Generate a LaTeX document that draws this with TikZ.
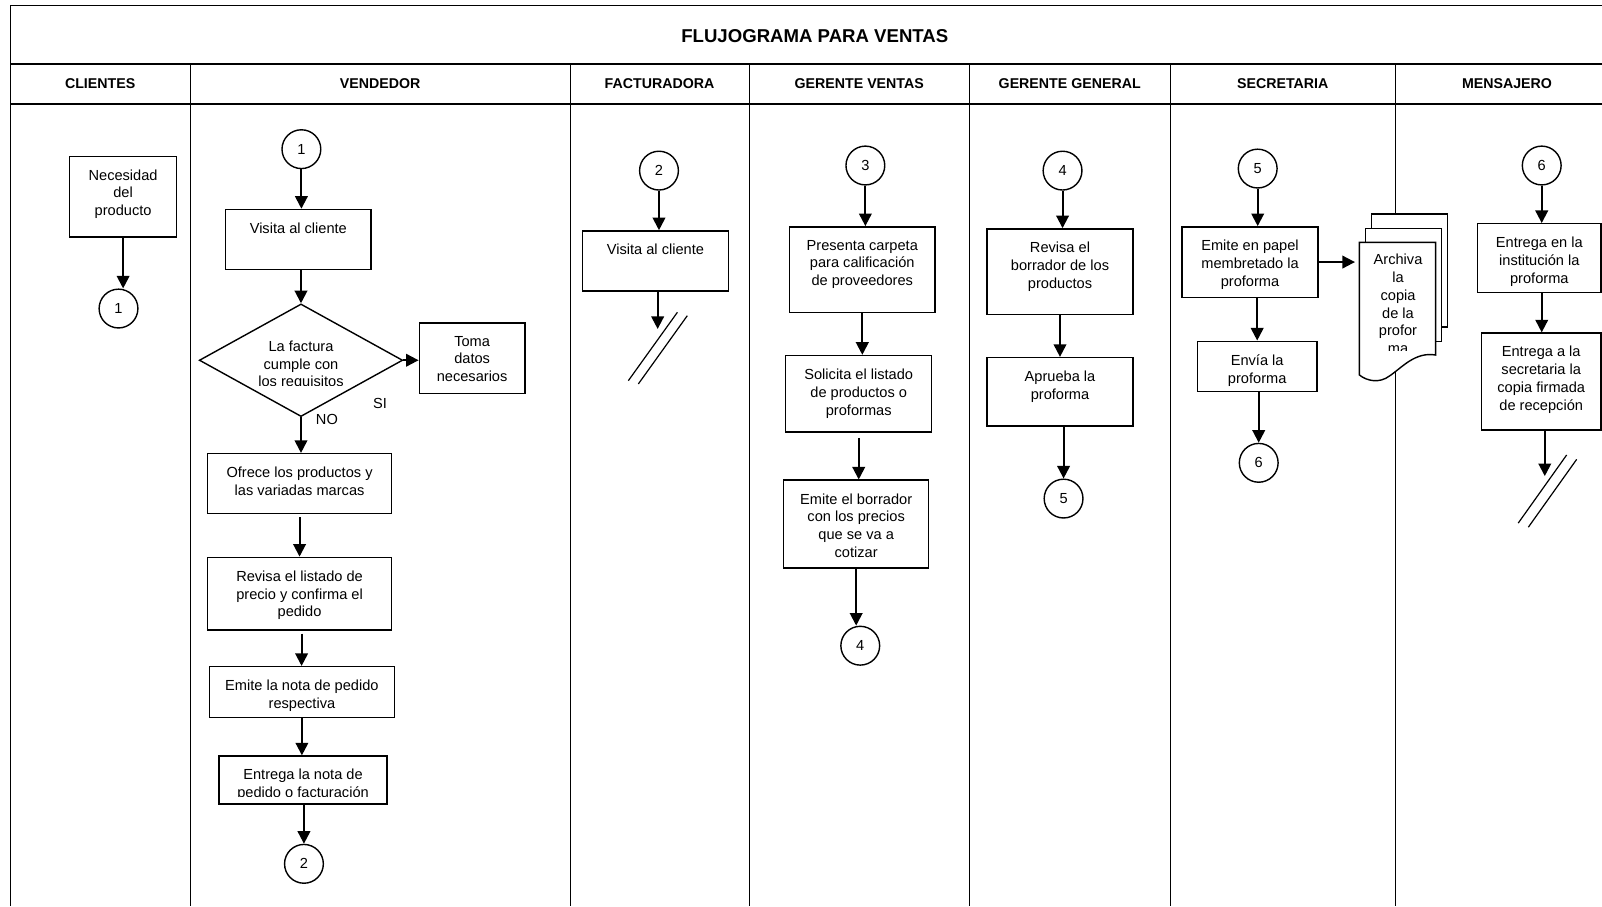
\documentclass[tikz,border=0pt]{standalone}
\usepackage{fontspec}
\setmainfont{Liberation Sans}
\usetikzlibrary{arrows.meta,shapes.geometric,fit,calc}

% process box: name, x1, y1, x2, y2, text (text set from the top of the box)
\newcommand\pbox[6]{%
  \node[box, fit={(#2,#3) (#4,#5)}] (#1) {};
  \node[txt] (#1-t) at ($(#1.north)+(0,13.3)$) {#6};
}

\begin{document}
\begin{tikzpicture}[
  x=0.51085pt, y=-0.51085pt,
  grid/.style={line width=0.5pt},
  rule/.style={line width=1.3pt},
  box/.style={draw, line width=0.7pt, rectangle, inner sep=0pt, fill=white},
  page/.style={draw, line width=0.7pt, fill=white},
  txt/.style={inner sep=0pt, align=center, anchor=north, font=\fontsize{7.3}{8.9}\selectfont},
  conn/.style={draw, circle, line width=0.7pt, minimum size=19.4pt, inner sep=0pt, fill=white, font=\fontsize{7.3}{8.9}\selectfont},
  dec/.style={draw, diamond, line width=0.7pt, inner sep=0pt, minimum width=101.7pt, minimum height=56.3pt},
  arr/.style={line width=1pt, -{Triangle[length=6.3pt, width=6.3pt]}},
  cut/.style={line width=0.6pt},
  head/.style={inner sep=0pt, font=\fontsize{7.1}{8.5}\selectfont\bfseries},
  lbl/.style={inner sep=0pt, font=\fontsize{7.3}{8.9}\selectfont},
]
\useasboundingbox (0,0) rectangle (1568,887);
\clip (0,0) rectangle (1568,887);

% ---------- table frame ----------
\draw[grid] (9.8,887) -- (9.8,4.9) -- (1590,4.9);
\draw[rule] (9.8,62.5) -- (1590,62.5);
\draw[rule] (9.8,101.8) -- (1590,101.8);
\foreach \x in {186.6,558,733.4,948.5,1146,1365.5}
  \draw[grid] (\x,62.5) -- (\x,887);

\node[inner sep=0pt, font=\fontsize{9.3}{11}\selectfont\bfseries] (titulo) at (797.5,35) {FLUJOGRAMA PARA VENTAS};
\node[head] (h1) at (98,82) {CLIENTES};
\node[head] (h2) at (372,82) {VENDEDOR};
\node[head] (h3) at (645.5,82) {FACTURADORA};
\node[head] (h4) at (841,82) {GERENTE VENTAS};
\node[head] (h5) at (1047,82) {GERENTE GENERAL};
\node[head] (h6) at (1255.5,82) {SECRETARIA};
\node[head] (h7) at (1475,82) {MENSAJERO};

% ---------- CLIENTES ----------
\pbox{nec}{68}{153}{173}{232}{Necesidad\\del\\producto}
\node[conn] (c1a) at (116,302) {1};
\draw[arr] (nec.south) -- (nec.south |- c1a.north);

% ---------- VENDEDOR ----------
\node[conn] (c1b) at (295,146) {1};
\pbox{vis}{221}{205}{363}{264}{Visita al cliente}
\node[dec] (fac) at (294.6,352.6) {};
\begin{scope}
  \clip (190,300) rectangle (400,377.5);
  \node[txt] (fac-t) at (294.6,333.2) {La factura\\cumple con\\los requisitos};
\end{scope}
\pbox{toma}{410.4}{316}{513.8}{385}{Toma\\datos\\necesarios}
\node[lbl] (si) at (372,394.5) {SI};
\node[lbl] (no) at (320,410.5) {NO};
\pbox{ofr}{203}{444}{383.4}{502.4}{Ofrece los productos y\\las variadas marcas}
\pbox{rev}{203}{545.5}{383.4}{616.6}{Revisa el listado de\\precio y confirma el\\pedido}
\pbox{nota}{205}{652.5}{386}{702.4}{Emite la nota de pedido\\respectiva}
\node[box, fit={(214.4,740) (378.8,787)}] (ent) {};
\begin{scope}
  \clip (214.4,740) rectangle (378.8,780);
  \node[txt] (ent-t) at ($(ent.north)+(0,13)$) {Entrega la nota de\\pedido o facturación};
\end{scope}
\node[conn] (c2a) at (297.5,845.5) {2};

\draw[arr] (c1b.south) -- (c1b.south |- vis.north);
\draw[arr] (vis.south -| fac.north) -- (fac.north);
\draw[arr] (fac.east) -- (toma.west |- fac.east);
\draw[arr] (fac.south) -- (fac.south |- ofr.north);
\draw[arr] ($(ofr.south)+(0,3)$) -- (ofr.south |- rev.north);
\draw[arr] ($(rev.south)+(2,3)$) -- ($(rev.south |- nota.north)+(2,0)$);
\draw[arr] (nota.south) -- (nota.south |- ent.north);
\draw[arr] (ent.south -| c2a.north) -- (c2a.north);

% ---------- FACTURADORA ----------
\node[conn] (c2b) at (645,167) {2};
\pbox{vis2}{570}{226}{713}{285}{Visita al cliente}
\coordinate (fin1) at (643.7,322);
\draw[arr] (c2b.south) -- (c2b.south |- vis2.north);
\draw[arr] (vis2.south -| fin1) -- (fin1);
\draw[cut] (615,372.6) -- (663,305.7);
\draw[cut] (624.8,375.8) -- (672.7,309);

% ---------- GERENTE VENTAS ----------
\node[conn] (c3) at (847,162) {3};
\pbox{pre}{773}{222}{915}{306}{Presenta carpeta\\para calificación\\de proveedores}
\pbox{sol}{769}{348}{912}{423}{Solicita el listado\\de productos o\\proformas}
\pbox{bor}{767}{470}{909}{556}{Emite el borrador\\con los precios\\que se va a\\cotizar}
\node[conn] (c4a) at (842,632) {4};
\draw[arr] (c3.south) -- (c3.south |- pre.north);
\draw[arr] (pre.south) -- (pre.south |- sol.north);
\draw[arr] ($(sol.south)+(0,5)$) -- (sol.south |- bor.north);
\draw[arr] (bor.south) -- (bor.south |- c4a.north);

% ---------- GERENTE GENERAL ----------
\node[conn] (c4b) at (1040,167) {4};
\pbox{revb}{966}{224}{1109}{308}{Revisa el\\borrador de los\\productos}
\pbox{apr}{966}{350}{1109}{417}{Aprueba la\\proforma}
\node[conn] (c5a) at (1041,488) {5};
\draw[arr] (c4b.south) -- (c4b.south |- revb.north);
\draw[arr] (revb.south) -- (revb.south |- apr.north);
\draw[arr] (apr.south -| c5a.north) -- (c5a.north);

% ---------- SECRETARIA ----------
\node[conn] (c5b) at (1231,165) {5};
\pbox{pap}{1157}{222}{1290}{291}{Emite en papel\\membretado la\\proforma}
\pbox{env}{1172}{334}{1289}{383}{Envía la\\proforma}
\node[conn] (c6a) at (1232,453) {6};

% stacked documents
\draw[page] (1342.5,209.5) rectangle (1417,320);
\draw[page] (1336.7,223.5) rectangle (1411,334.4);
\draw[page] (1330.5,237.2) -- (1405.2,237.2) -- (1405.2,347.5)
  .. controls (1385,344) and (1372,360) .. (1360,368)
  .. controls (1350,375.5) and (1338,373) .. (1330.5,367) -- cycle;
\node[inner sep=0pt, fit={(1330.5,237.2) (1405.2,347.5)}] (arch) {};
\begin{scope}
  \clip (1331,238) rectangle (1405,343.5);
  \node[txt] (arch-t) at ($(arch.north)+(0.5,11.5)$) {Archiva\\la\\copia\\de la\\profor\\ma};
\end{scope}

\draw[arr] (c5b.south) -- (c5b.south |- pap.north);
\draw[arr, shorten >=2pt] (pap.east) -- (pap.east -| arch.west);
\draw[arr] (env.north |- pap.south) -- (env.north);
\draw[arr] (env.south -| c6a.north) -- (c6a.north);

% ---------- MENSAJERO ----------
\node[conn] (c6b) at (1509,162) {6};
\pbox{ins}{1446.3}{219}{1567}{286}{Entrega en la\\institución la\\proforma}
\pbox{sec}{1450}{326}{1567}{421}{Entrega a la\\secretaria la\\copia firmada\\de recepción}
\coordinate (fin2) at (1512,466);
\draw[arr] (c6b.south) -- (c6b.south |- ins.north);
\draw[arr] (ins.south -| c6b.south) -- (c6b.south |- sec.north);
\draw[arr] (sec.south -| fin2) -- (fin2);
\draw[cut] (1486,512) -- (1533.4,445.3);
\draw[cut] (1495.9,516) -- (1543.2,449.6);
\end{tikzpicture}
\end{document}
